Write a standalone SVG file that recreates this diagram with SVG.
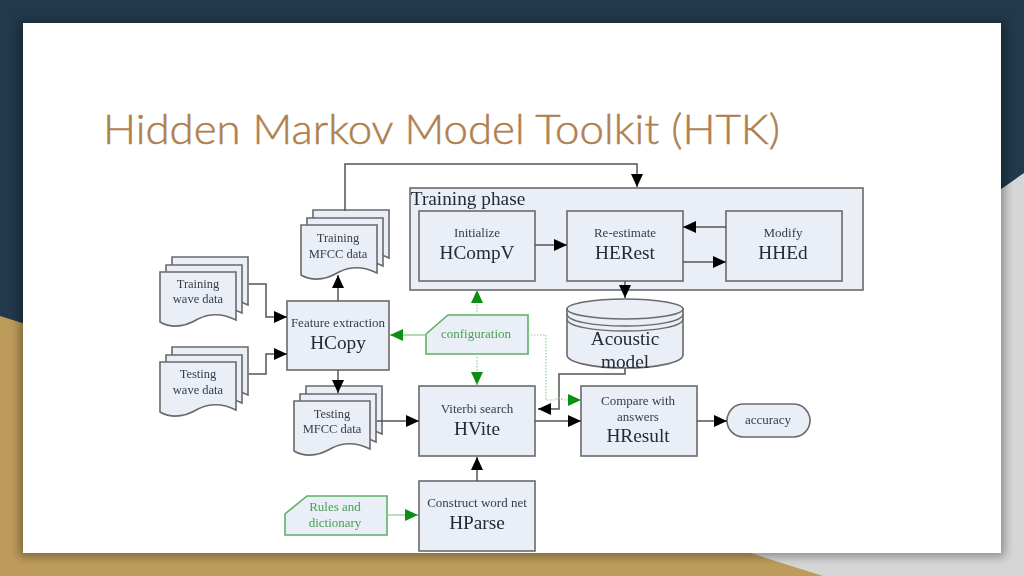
<svg xmlns="http://www.w3.org/2000/svg" xmlns:xlink="http://www.w3.org/1999/xlink" width="1024" height="576" viewBox="0 0 1024 576">
<style>
.n{fill:#e9eef7;stroke:#6a6a6a;stroke-width:1.6}
.g{fill:#e9eef7;stroke:#5cb165;stroke-width:1.6}
.c{fill:none;stroke:#555;stroke-width:1.5}
.cg{fill:none;stroke:#8fcf94;stroke-width:1.3}
.cd{fill:none;stroke:#8fcf94;stroke-width:1.2;stroke-dasharray:1.5 1.5}
text{font-family:"Liberation Serif","Times New Roman",serif;fill:#3a3d44;text-anchor:middle}
.s{font-size:13px}
.m{font-size:12.5px}
.b{font-size:19.3px;fill:#262931}
.gt{fill:#4b9f55;font-size:13px}
</style>
<defs>
<marker id="a" markerUnits="userSpaceOnUse" markerWidth="14" markerHeight="14" refX="13" refY="6.5" orient="auto"><path d="M0,0.5L13,6.5L0,12.5Z" fill="#000"/></marker>
<marker id="ag" markerUnits="userSpaceOnUse" markerWidth="14" markerHeight="14" refX="13" refY="6.5" orient="auto"><path d="M0,0.5L13,6.5L0,12.5Z" fill="#0b8f12"/></marker>
<filter id="sh" x="-5%" y="-5%" width="110%" height="110%"><feGaussianBlur stdDeviation="5"/></filter>
<filter id="soft" x="-2%" y="-2%" width="104%" height="104%"><feGaussianBlur stdDeviation="0.35"/></filter>
<path id="p" class="n" d="M0,0H76V48C60,40 48,42 38,47C28,53 14,58 0,50Z"/>
<g id="doc"><use xlink:href="#p" x="12" y="-15"/><use xlink:href="#p" x="6" y="-7"/><use xlink:href="#p"/></g>
</defs>
<g id="background">
<rect width="1024" height="576" fill="#d6d6d6"/>
<path d="M0,0H1024V173L700,400L0,400Z" fill="#21394a"/>
<path d="M0,316L823,576H0Z" fill="#bd9c5b"/>
<rect x="19" y="22" width="986" height="535" fill="#000" opacity="0.32" filter="url(#sh)"/>
<rect x="23" y="23" width="978" height="530" fill="#fff"/>
</g>
<text x="103" y="144" style="font-family:Lato,'Noto Sans',sans-serif;font-weight:300;font-size:42px;fill:#b07f50;stroke:#b07f50;stroke-width:0.5;text-anchor:start" textLength="677" lengthAdjust="spacingAndGlyphs">Hidden Markov Model Toolkit (HTK)</text>
<g filter="url(#soft)">
<g id="training-phase"><rect class="n" x="410" y="188" width="453" height="102"/><text x="468" y="205" style="font-size:19.3px;fill:#262931">Training phase</text></g>
<g id="hcompv"><rect class="n" x="419" y="211" width="116" height="70"/><text class="s" x="477" y="237">Initialize</text><text class="b" x="477" y="259">HCompV</text></g>
<g id="herest"><rect class="n" x="567" y="211" width="116" height="70"/><text class="s" x="625" y="237">Re-estimate</text><text class="b" x="625" y="259">HERest</text></g>
<g id="hhed"><rect class="n" x="726" y="211" width="116" height="70"/><text class="s" x="783" y="237">Modify</text><text class="b" x="783" y="259">HHEd</text></g>
<g id="training-mfcc"><use xlink:href="#doc" x="301" y="225"/><text class="m" x="338" y="242">Training</text><text class="m" x="338" y="258">MFCC data</text></g>
<g id="training-wave"><use xlink:href="#doc" x="160" y="272"/><text class="m" x="198" y="288">Training</text><text class="m" x="198" y="303">wave data</text></g>
<g id="testing-wave"><use xlink:href="#doc" x="160" y="362"/><text class="m" x="198" y="378">Testing</text><text class="m" x="198" y="394">wave data</text></g>
<g id="testing-mfcc"><use xlink:href="#doc" x="294" y="401"/><text class="m" x="332" y="418">Testing</text><text class="m" x="332" y="433">MFCC data</text></g>
<g id="hcopy"><rect class="n" x="287" y="301" width="102" height="69"/><text class="s" x="338" y="327">Feature extraction</text><text class="b" x="338" y="349">HCopy</text></g>
<g id="configuration"><path class="g" d="M448,315H528V354H426V334Z"/><text class="gt" x="476" y="338">configuration</text></g>
<g id="acoustic-model"><path class="n" d="M567,309V355C567,362 592,368 625,368C658,368 683,362 683,355V309Z"/><ellipse class="n" cx="625" cy="309" rx="58" ry="10"/><path class="c" style="stroke:#6a6a6a" d="M567,314C567,321 592,326 625,326C658,326 683,321 683,314"/><path class="c" style="stroke:#6a6a6a" d="M567,319C567,326 592,331 625,331C658,331 683,326 683,319"/><text class="b" x="625" y="345">Acoustic</text><text class="b" x="625" y="368">model</text></g>
<g id="hvite"><rect class="n" x="419" y="386" width="116" height="70"/><text class="s" x="477" y="413">Viterbi search</text><text class="b" x="477" y="435">HVite</text></g>
<g id="hresult"><rect class="n" x="581" y="386" width="116" height="70"/><text class="s" x="638" y="405">Compare with</text><text class="s" x="638" y="421">answers</text><text class="b" x="638" y="442">HResult</text></g>
<g id="accuracy"><rect class="n" x="727" y="404" width="83" height="33" rx="16.5"/><text class="s" x="768" y="424">accuracy</text></g>
<g id="hparse"><rect class="n" x="419" y="481" width="116" height="70"/><text class="s" x="477" y="507">Construct word net</text><text class="b" x="477" y="529">HParse</text></g>
<g id="rules"><path class="g" d="M307,496H387V535H285V514Z"/><text class="gt" x="335" y="511">Rules and</text><text class="gt" x="335" y="527">dictionary</text></g>
<g id="connectors">
<path class="c" marker-end="url(#a)" d="M345,211V164H637V187"/>
<path class="c" marker-end="url(#a)" d="M338,301V275"/>
<path class="c" marker-end="url(#a)" d="M249,284H266V317H287"/>
<path class="c" marker-end="url(#a)" d="M249,374H266V354H287"/>
<path class="c" marker-end="url(#a)" d="M338,370V393"/>
<path class="c" marker-end="url(#a)" d="M377,421H419"/>
<path class="c" marker-end="url(#a)" d="M535,421H581"/>
<path class="c" marker-end="url(#a)" d="M697,421H727"/>
<path class="c" marker-end="url(#a)" d="M477,481V457"/>
<path class="c" marker-end="url(#a)" d="M535,245H567"/>
<path class="c" marker-end="url(#a)" d="M726,227H683"/>
<path class="c" marker-end="url(#a)" d="M683,262H726"/>
<path class="c" marker-end="url(#a)" d="M625,281V298"/>
<path class="c" marker-end="url(#a)" d="M625,368V374H559V409H538"/>
<path class="cg" marker-end="url(#ag)" d="M387,515H418"/>
<path class="cg" marker-end="url(#ag)" d="M426,335H390"/>
<path class="cd" marker-end="url(#ag)" d="M477,315V290"/>
<path class="cd" marker-end="url(#ag)" d="M477,354V385"/>
<path class="cd" marker-end="url(#ag)" d="M528,335H546V400H555Q559,396 563,400H581"/>
</g>
</g>
</svg>
